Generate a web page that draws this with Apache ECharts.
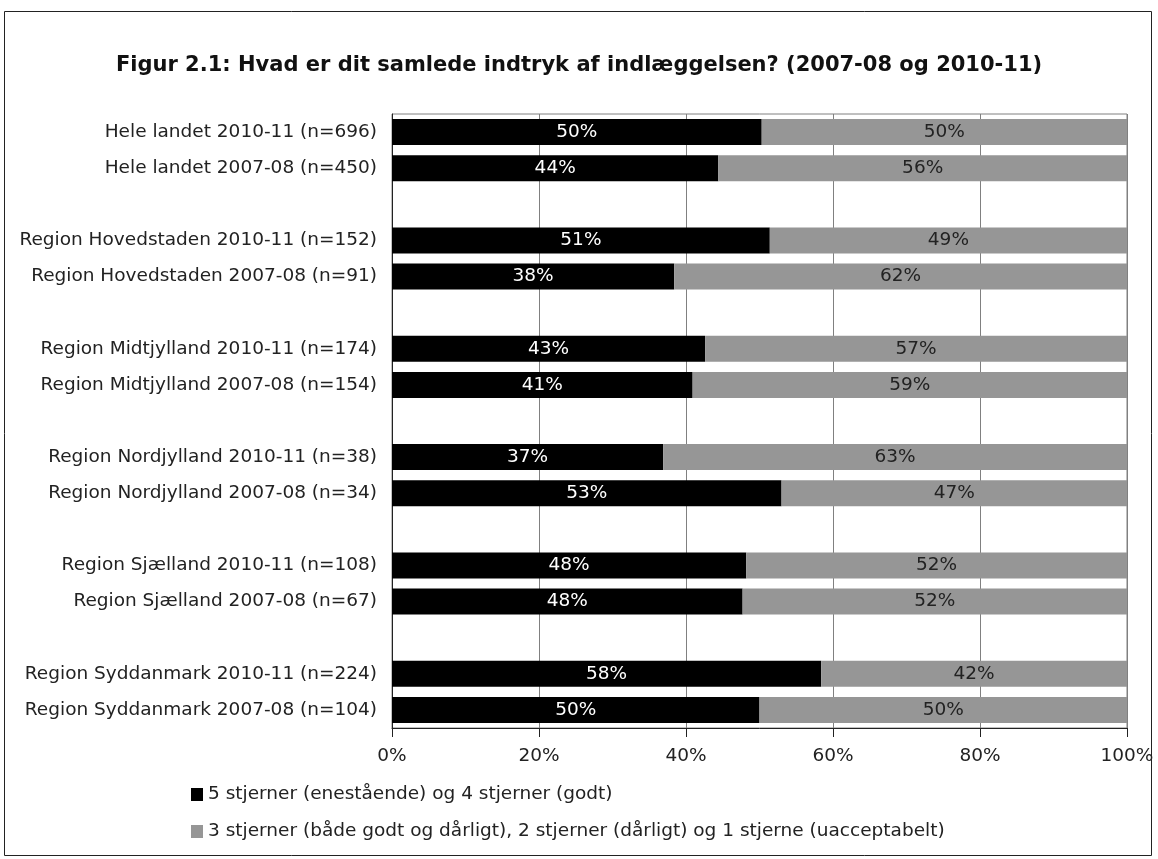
<!DOCTYPE html>
<html>
<head>
<meta charset="utf-8">
<script src="https://cdn.jsdelivr.net/npm/echarts@6/dist/echarts.min.js"></script>
<style>
    html, body { margin: 0; padding: 0; background: #fff; }
    #chart { width: 1158px; height: 859px; }
</style>
</head>
<body>
<div id="chart"></div>
<script>
// kategorier, tomme pladser giver luft mellem regionerne
const categories = [
    'Hele landet 2010-11 (n=696)',
    'Hele landet 2007-08 (n=450)',
    '',
    'Region Hovedstaden 2010-11 (n=152)',
    'Region Hovedstaden 2007-08 (n=91)',
    '',
    'Region Midtjylland 2010-11 (n=174)',
    'Region Midtjylland 2007-08 (n=154)',
    '',
    'Region Nordjylland 2010-11 (n=38)',
    'Region Nordjylland 2007-08 (n=34)',
    '',
    'Region Sjælland 2010-11 (n=108)',
    'Region Sjælland 2007-08 (n=67)',
    '',
    'Region Syddanmark 2010-11 (n=224)',
    'Region Syddanmark 2007-08 (n=104)'
];

const goodValues = [50.3, 44.4, null, 51.4, 38.4, null, 42.6, 40.9, null, 36.9, 53.0, null, 48.2, 47.7, null, 58.4, 50.0];
const badValues = [49.7, 55.6, null, 48.6, 61.6, null, 57.4, 59.1, null, 63.1, 47.0, null, 51.8, 52.3, null, 41.6, 50.0];

const seriesNames = [
    '5 stjerner (enestående) og 4 stjerner (godt)',
    '3 stjerner (både godt og dårligt), 2 stjerner (dårligt) og 1 stjerne (uacceptabelt)'
];

const xTicks = [0, 20, 40, 60, 80, 100];

const FONT = 'DejaVu Sans';
const FS = 18.5;

let chart = echarts.init(document.getElementById('chart'));

function pctLabel (color) {
    return {
        show: true,
        position: 'inside',
        color: color,
        fontFamily: FONT,
        fontSize: FS,
        formatter: function (p) {
            return p.value == null ? '' : Math.round(p.value) + '%';
        }
    };
}

chart.setOption({
    backgroundColor: '#fff',
    animation: false,
    title: {
        text: 'Figur 2.1: Hvad er dit samlede indtryk af indlæggelsen? (2007-08 og 2010-11)',
        left: 'center',
        top: 50,
        textStyle: {
            fontFamily: FONT,
            fontWeight: 'bold',
            fontSize: 21,
            color: '#111'
        }
    },
    graphic: [{
        type: 'rect',
        shape: { x: 4.5, y: 11.5, width: 1147, height: 844 },
        style: { fill: 'none', stroke: '#222', lineWidth: 1 },
        silent: true
    }],
    legend: {
        orient: 'vertical',
        left: 186,
        top: 780,
        itemGap: 18,
        itemWidth: 12,
        itemHeight: 13,
        icon: 'rect',
        textStyle: {
            fontFamily: FONT,
            fontSize: FS,
            color: '#222'
        },
        data: seriesNames
    },
    grid: {
        left: 392,
        right: 31,
        top: 114,
        bottom: 131,
        show: true,
        borderColor: '#808080',
        borderWidth: 1,
        containLabel: false
    },
    xAxis: {
        type: 'value',
        min: xTicks[0],
        max: xTicks[xTicks.length - 1],
        interval: 20,
        axisLine: {
            show: true,
            lineStyle: { color: '#222' }
        },
        axisTick: {
            show: true,
            length: 9,
            lineStyle: { color: '#222' }
        },
        axisLabel: {
            fontFamily: FONT,
            fontSize: FS,
            color: '#222',
            margin: 19,
            formatter: '{value}%'
        },
        splitLine: {
            lineStyle: { color: '#808080' }
        }
    },
    yAxis: {
        type: 'category',
        inverse: true,
        data: categories,
        axisLine: {
            show: true,
            lineStyle: { color: '#222' }
        },
        axisTick: { show: false },
        axisLabel: {
            fontFamily: FONT,
            fontSize: FS,
            color: '#222',
            margin: 15,
            interval: 0
        }
    },
    series: [{
        name: seriesNames[0],
        type: 'bar',
        stack: 'total',
        barWidth: 26,
        itemStyle: { color: '#000' },
        label: pctLabel('#fff'),
        data: goodValues
    }, {
        name: seriesNames[1],
        type: 'bar',
        stack: 'total',
        barWidth: 26,
        itemStyle: { color: '#969696' },
        label: pctLabel('#222'),
        data: badValues
    }]
});
</script>
</body>
</html>
